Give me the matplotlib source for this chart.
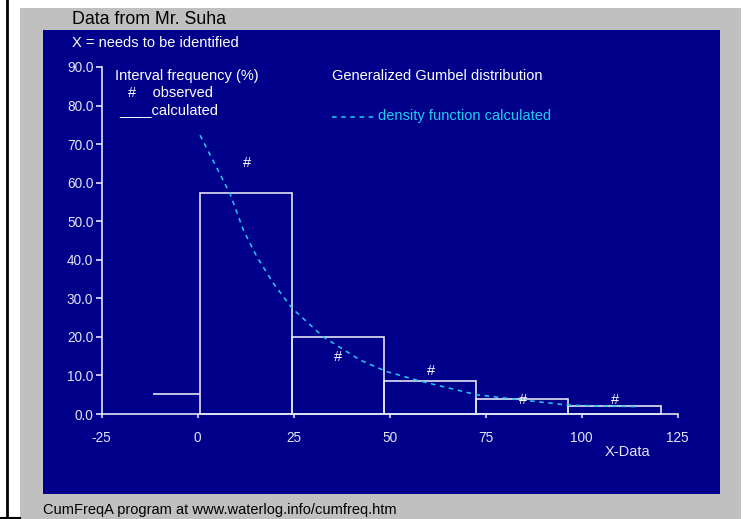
import matplotlib
matplotlib.use("Agg")
import matplotlib.pyplot as plt
from matplotlib.patches import Rectangle
from matplotlib.lines import Line2D

plt.rcParams['font.family'] = ['Liberation Sans', 'DejaVu Sans']

# ---- data ----
bin_edges = [-11.6, 0.6, 24.6, 48.5, 72.6, 96.5, 120.6]
calc_freq = [5.2, 57.4, 20.0, 8.5, 3.9, 2.1]
obs_x = [12.9, 36.6, 60.8, 84.8, 108.7]
obs_y = [65.2, 14.8, 11.2, 3.7, 3.7]
dens_x = [0.6, 8.4, 11.9, 15.4, 19.7, 24.6, 32.7, 42.3, 49.2, 58.1, 72.6, 84.8, 96.5, 114.3]
dens_y = [72.3, 57.2, 47.7, 40.8, 33.9, 27.4, 20.0, 14.0, 11.0, 8.5, 5.0, 3.6, 2.3, 1.9]
x_ticks = [-25, 0, 25, 50, 75, 100, 125]
y_ticks = [0, 10, 20, 30, 40, 50, 60, 70, 80, 90]

W, H = 747, 519
fig = plt.figure(figsize=(W / 100, H / 100), dpi=100, facecolor='white')

def fx(px):
    return px / W

def fy(py):
    return 1 - py / H

NAVY = '#00008B'
LINE = '#E4E4F6'
CYAN = '#22CCEE'
FS = 10.5

# backgrounds
fig.patches.append(Rectangle((fx(20), fy(519)), fx(741) - fx(20), fy(8) - fy(519),
                             transform=fig.transFigure, facecolor='#C0C0C0', edgecolor='none', zorder=-3))
fig.patches.append(Rectangle((fx(43), fy(494)), fx(720) - fx(43), fy(30) - fy(494),
                             transform=fig.transFigure, facecolor=NAVY, edgecolor='none', zorder=-2))
fig.lines.append(Line2D([fx(6.5), fx(6.5)], [0, 1], transform=fig.transFigure, color='black', lw=2, zorder=-1))
fig.lines.append(Line2D([0, fx(20)], [fy(517.5), fy(517.5)], transform=fig.transFigure, color='black', lw=1.5, zorder=-1))

ax = fig.add_axes([fx(101.7), fy(414), fx(677.7) - fx(101.7), fy(67) - fy(414)])
ax.set_zorder(1)
ax.set_facecolor('none')
ax.set_xlim(-25, 125)
ax.set_ylim(0, 90)
for s in ['top', 'right']:
    ax.spines[s].set_visible(False)
for s in ['left', 'bottom']:
    ax.spines[s].set_color(LINE)
    ax.spines[s].set_linewidth(1.2)
ax.set_xticks(x_ticks)
ax.set_yticks(y_ticks)
ax.set_xticklabels([str(t) for t in x_ticks])
ax.set_yticklabels(['%.1f' % t for t in y_ticks])
ax.tick_params(axis='x', direction='out', length=3, width=1.2, color=LINE,
               labelcolor=LINE, labelsize=9.8, pad=9)
ax.tick_params(axis='y', direction='out', length=4, width=1.2, color=LINE,
               labelcolor=LINE, labelsize=9.8, pad=2)

# first interval: only horizontal line
ax.hlines(calc_freq[0], bin_edges[0], bin_edges[1], color=LINE, lw=1.2)
# remaining intervals as bars
lefts = bin_edges[1:-1]
widths = [bin_edges[i + 1] - bin_edges[i] for i in range(1, len(bin_edges) - 1)]
ax.bar(lefts, calc_freq[1:], width=widths, align='edge', fill=False,
       edgecolor=LINE, linewidth=1.2, clip_on=False)

# density curve
ax.plot(dens_x, dens_y, color=CYAN, lw=1.1, ls=(0, (3, 3)))

# observed markers
for x, y in zip(obs_x, obs_y):
    ax.text(x, y, '#', color='white', fontsize=FS, ha='center', va='center')

# texts
fig.text(fx(72), fy(20), 'Data from Mr. Suha', color='black', fontsize=12.8, ha='left', va='center')
fig.text(fx(72), fy(43), 'X = needs to be identified', color='white', fontsize=FS, ha='left', va='center')
fig.text(fx(115), fy(76), 'Interval frequency (%)', color='white', fontsize=FS, ha='left', va='center')
fig.text(fx(128), fy(93), '#    observed', color='white', fontsize=FS, ha='left', va='center')
fig.text(fx(119), fy(110), '____calculated', color='white', fontsize=FS, ha='left', va='center')
fig.text(fx(332), fy(76), 'Generalized Gumbel distribution', color='white', fontsize=FS, ha='left', va='center')
fig.lines.append(Line2D([fx(332), fx(374)], [fy(117), fy(117)], transform=fig.transFigure,
                        color=CYAN, lw=1.1, ls=(0, (3, 3))))
fig.text(fx(378), fy(116), 'density function calculated', color=CYAN, fontsize=FS, ha='left', va='center')
fig.text(fx(605), fy(452), 'X-Data', color=LINE, fontsize=FS, ha='left', va='center')
fig.text(fx(43), fy(510), 'CumFreqA program at www.waterlog.info/cumfreq.htm', color='black',
         fontsize=FS, ha='left', va='center')

fig.savefig('out.png', dpi=100, facecolor='white')
